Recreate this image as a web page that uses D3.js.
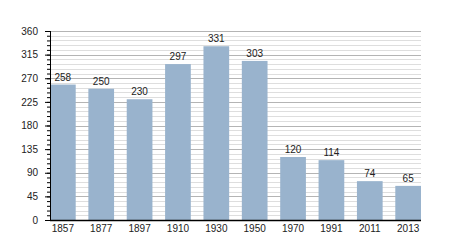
<!DOCTYPE html>
<html>
<head>
<meta charset="utf-8">
<script src="https://cdn.jsdelivr.net/npm/d3@7"></script>
<style>
  body { margin: 0; background: #fff; }
  svg text { font-family: "Liberation Sans", Arial, sans-serif; }
</style>
</head>
<body>
<svg id="chart"></svg>
<script>
const years = ["1857", "1877", "1897", "1910", "1930", "1950", "1970", "1991", "2011", "2013"];
const population = [258, 250, 230, 297, 331, 303, 120, 114, 74, 65];
const majorTicks = [0, 45, 90, 135, 180, 225, 270, 315, 360];
const minorTicks = d3.range(0, 361, 9);

const margin = { top: 31, right: 29, bottom: 30, left: 50 };
const width = 450 - margin.left - margin.right;
const height = 250 - margin.top - margin.bottom;

const svg = d3.select("#chart")
    .attr("width", 450)
    .attr("height", 250)
    .append("g")
    .attr("transform", `translate(${margin.left},${margin.top})`);

const x = d3.scaleBand()
    .domain(years)
    .range([0, width])
    .paddingInner(0.33)
    .paddingOuter(0);

const y = d3.scaleLinear()
    .domain([0, 360])
    .range([height, 0]);

// minor grid
svg.append("g")
    .selectAll("line")
    .data(minorTicks.filter(d => !majorTicks.includes(d)))
    .enter().append("line")
    .attr("x1", 0).attr("x2", width)
    .attr("y1", d => Math.round(y(d)) + 0.5)
    .attr("y2", d => Math.round(y(d)) + 0.5)
    .attr("stroke", "#dedede");

// major grid
svg.append("g")
    .selectAll("line")
    .data(majorTicks.filter(d => d > 0))
    .enter().append("line")
    .attr("x1", 0).attr("x2", width)
    .attr("y1", d => Math.round(y(d)) + 0.5)
    .attr("y2", d => Math.round(y(d)) + 0.5)
    .attr("stroke", "#b4b4b4");

svg.selectAll(".bar")
    .data(population)
    .enter().append("rect")
    .attr("class", "bar")
    .attr("x", (d, i) => x(years[i]))
    .attr("y", d => y(d))
    .attr("width", x.bandwidth())
    .attr("height", d => height - y(d))
    .attr("fill", "#99b3cd");

svg.selectAll(".val")
    .data(population)
    .enter().append("text")
    .attr("class", "val")
    .attr("x", (d, i) => x(years[i]) + x.bandwidth() / 2)
    .attr("y", d => y(d) - 4)
    .attr("text-anchor", "middle")
    .attr("font-size", 10)
    .attr("fill", "#222")
    .text(d => d);

// minor ticks on y axis
svg.append("g")
    .call(d3.axisLeft(y).tickValues(minorTicks).tickSize(3).tickFormat(""))
    .call(g => g.select(".domain").remove())
    .selectAll("line").attr("stroke", "#000");

const yAxis = svg.append("g")
    .call(d3.axisLeft(y).tickValues(majorTicks).tickSize(5).tickPadding(7));
yAxis.selectAll("text").attr("font-size", 10).attr("fill", "#222").style("font-family", "Liberation Sans, Arial, sans-serif");
yAxis.select(".domain").attr("d", `M0.5,0V${height}`);

const xAxis = svg.append("g")
    .attr("transform", `translate(0,${height})`)
    .call(d3.axisBottom(x).tickSize(0).tickPadding(5));
xAxis.select(".domain").attr("d", `M0,0.5H${width}`).attr("stroke-width", 1.5);
xAxis.selectAll("text").attr("font-size", 10).attr("fill", "#222").style("font-family", "Liberation Sans, Arial, sans-serif");
</script>
</body>
</html>
